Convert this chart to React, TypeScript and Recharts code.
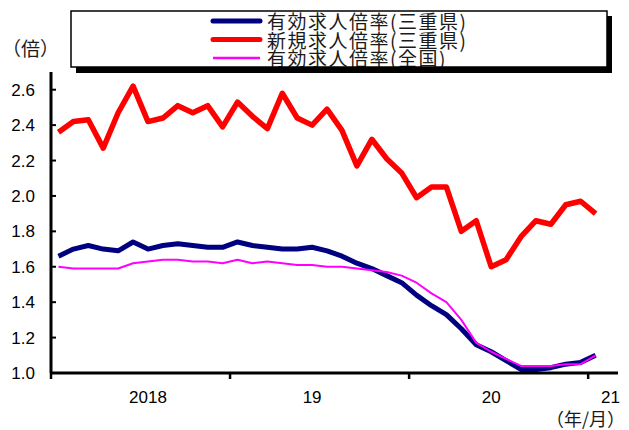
import { LineChart, Line, XAxis, YAxis, Legend } from "recharts";

// 2018/1 .. 2021/1 monthly, plus an empty slot so the axis runs past the last point
const months = [
  "2018/1", "2018/2", "2018/3", "2018/4", "2018/5", "2018/6", "2018/7", "2018/8", "2018/9", "2018/10", "2018/11", "2018/12",
  "2019/1", "2019/2", "2019/3", "2019/4", "2019/5", "2019/6", "2019/7", "2019/8", "2019/9", "2019/10", "2019/11", "2019/12",
  "2020/1", "2020/2", "2020/3", "2020/4", "2020/5", "2020/6", "2020/7", "2020/8", "2020/9", "2020/10", "2020/11", "2020/12",
  "2021/1", "2021/2",
];

const mieYukou = [
  1.66, 1.70, 1.72, 1.70, 1.69, 1.74, 1.70, 1.72, 1.73, 1.72, 1.71, 1.71,
  1.74, 1.72, 1.71, 1.70, 1.70, 1.71, 1.69, 1.66, 1.62, 1.59, 1.55, 1.51,
  1.44, 1.38, 1.33, 1.25, 1.16, 1.12, 1.07, 1.02, 1.02, 1.03, 1.05, 1.06,
  1.10, null,
];

const mieShinki = [
  2.36, 2.42, 2.43, 2.27, 2.47, 2.62, 2.42, 2.44, 2.51, 2.47, 2.51, 2.39,
  2.53, 2.45, 2.38, 2.58, 2.44, 2.40, 2.49, 2.37, 2.17, 2.32, 2.21, 2.13,
  1.99, 2.05, 2.05, 1.80, 1.86, 1.60, 1.64, 1.77, 1.86, 1.84, 1.95, 1.97,
  1.90, null,
];

const zenkokuYukou = [
  1.60, 1.59, 1.59, 1.59, 1.59, 1.62, 1.63, 1.64, 1.64, 1.63, 1.63, 1.62,
  1.64, 1.62, 1.63, 1.62, 1.61, 1.61, 1.60, 1.60, 1.59, 1.58, 1.57, 1.55,
  1.51, 1.45, 1.40, 1.30, 1.17, 1.12, 1.08, 1.04, 1.04, 1.04, 1.05, 1.05,
  1.10, null,
];

const yTicks = [1.0, 1.2, 1.4, 1.6, 1.8, 2.0, 2.2, 2.4, 2.6];

// year label placed under a given month slot
const yearLabels: Record<number, string> = { 6: "2018", 17: "19", 29: "20", 37: "21" };
const yearStarts = [0, 12, 24, 36];

// legend rows top to bottom
const legendOrder = ["mieYukou", "mieShinki", "zenkokuYukou"];

const data = months.map((m, i) => ({
  month: m,
  mieYukou: mieYukou[i],
  mieShinki: mieShinki[i],
  zenkokuYukou: zenkokuYukou[i],
}));

const W = 629;
const H = 430;
const PLOT_LEFT = 51;
const PLOT_RIGHT = 618;
const PLOT_TOP = 72;
const PLOT_BOTTOM = 373;
const BW = (PLOT_RIGHT - PLOT_LEFT) / months.length;

const NUM_FONT = "'Liberation Sans', Arial, sans-serif";
const JP_FONT = "'Noto Sans CJK JP', sans-serif";

const YTick = (props: any) => {
  const { y, payload } = props;
  return (
    <g>
      <line x1={PLOT_LEFT} x2={PLOT_LEFT + 5} y1={y} y2={y} stroke="#000" strokeWidth={2} />
      <text x={35} y={y + 6} textAnchor="end" fontSize={17} fontFamily={NUM_FONT} fill="#000">
        {Number(payload.value).toFixed(1)}
      </text>
    </g>
  );
};

const XTick = (props: any) => {
  const { x, index } = props;
  const label = yearLabels[index];
  return (
    <g>
      {yearStarts.includes(index) && (
        <line
          x1={x - BW / 2}
          x2={x - BW / 2}
          y1={PLOT_BOTTOM}
          y2={PLOT_BOTTOM + 6}
          stroke="#000"
          strokeWidth={2.5}
        />
      )}
      {label && (
        <text x={x} y={PLOT_BOTTOM + 30} textAnchor="middle" fontSize={17} fontFamily={NUM_FONT} fill="#000">
          {label}
        </text>
      )}
    </g>
  );
};

const renderLegend = ({ payload }: any) => {
  const rows = [...(payload ?? [])].sort(
    (a: any, b: any) => legendOrder.indexOf(a.dataKey) - legendOrder.indexOf(b.dataKey)
  );
  return (
    <svg width={550} height={66} style={{ display: "block", overflow: "visible" }}>
      {/* drop shadow */}
      <rect x={6} y={6} width={536} height={57} fill="#000" />
      <rect x={1} y={1} width={536} height={56} fill="#fff" />
      {rows.map((item: any, i: number) => {
        const cy = 11 + i * 18.5;
        const thin = item.dataKey === "zenkokuYukou";
        return (
          <g key={item.dataKey}>
            <line
              x1={143}
              x2={190}
              y1={cy}
              y2={cy}
              stroke={item.color}
              strokeWidth={thin ? 2.5 : 5}
              strokeLinecap={thin ? "butt" : "round"}
            />
            <text x={197} y={cy + 8} fontSize={19} letterSpacing={1.5} fontFamily={JP_FONT} fill="#1a1a1a">
              {item.value}
            </text>
          </g>
        );
      })}
      <rect x={1} y={1} width={536} height={56} fill="none" stroke="#000" strokeWidth={1.5} />
      <rect x={6} y={57.5} width={536} height={5.5} fill="#000" />
    </svg>
  );
};

export default function App() {
  return (
    <div style={{ position: "absolute", left: 0, top: 0, width: W, height: H, background: "#fff" }}>
      <LineChart
        width={W}
        height={H}
        data={data}
        margin={{ top: PLOT_TOP, right: W - PLOT_RIGHT, left: 0, bottom: 0 }}
      >
        <XAxis
          dataKey="month"
          interval={0}
          padding={{ left: BW / 2, right: BW / 2 }}
          height={H - PLOT_BOTTOM}
          axisLine={{ stroke: "#000", strokeWidth: 3 }}
          tickLine={false}
          tick={<XTick />}
        />
        <YAxis
          width={PLOT_LEFT}
          domain={[1.0, 2.7]}
          ticks={yTicks}
          allowDataOverflow
          axisLine={{ stroke: "#000", strokeWidth: 3 }}
          tickLine={false}
          tick={<YTick />}
        />
        <Legend
          layout="vertical"
          align="center"
          verticalAlign="middle"
          content={renderLegend}
          wrapperStyle={{ position: "absolute", left: 70, top: 10, width: 550, height: 66 }}
        />
        <Line
          dataKey="mieYukou"
          name="有効求人倍率(三重県)"
          stroke="#000080"
          strokeWidth={5}
          strokeLinejoin="round"
          dot={false}
          isAnimationActive={false}
        />
        <Line
          dataKey="mieShinki"
          name="新規求人倍率(三重県)"
          stroke="#ff0000"
          strokeWidth={5.5}
          strokeLinejoin="round"
          dot={false}
          isAnimationActive={false}
        />
        <Line
          dataKey="zenkokuYukou"
          name="有効求人倍率(全国)"
          stroke="#ff00ff"
          strokeWidth={2}
          strokeLinejoin="round"
          dot={false}
          isAnimationActive={false}
        />
      </LineChart>
      <div
        style={{
          position: "absolute",
          left: 2,
          top: 36,
          fontSize: 19,
          fontFamily: JP_FONT,
          color: "#1a1a1a",
          lineHeight: "24px",
        }}
      >
        （倍）
      </div>
      <div
        style={{
          position: "absolute",
          right: 4,
          top: 407,
          fontSize: 18,
          fontFamily: JP_FONT,
          color: "#1a1a1a",
          lineHeight: "22px",
        }}
      >
        （年/月）
      </div>
    </div>
  );
}
